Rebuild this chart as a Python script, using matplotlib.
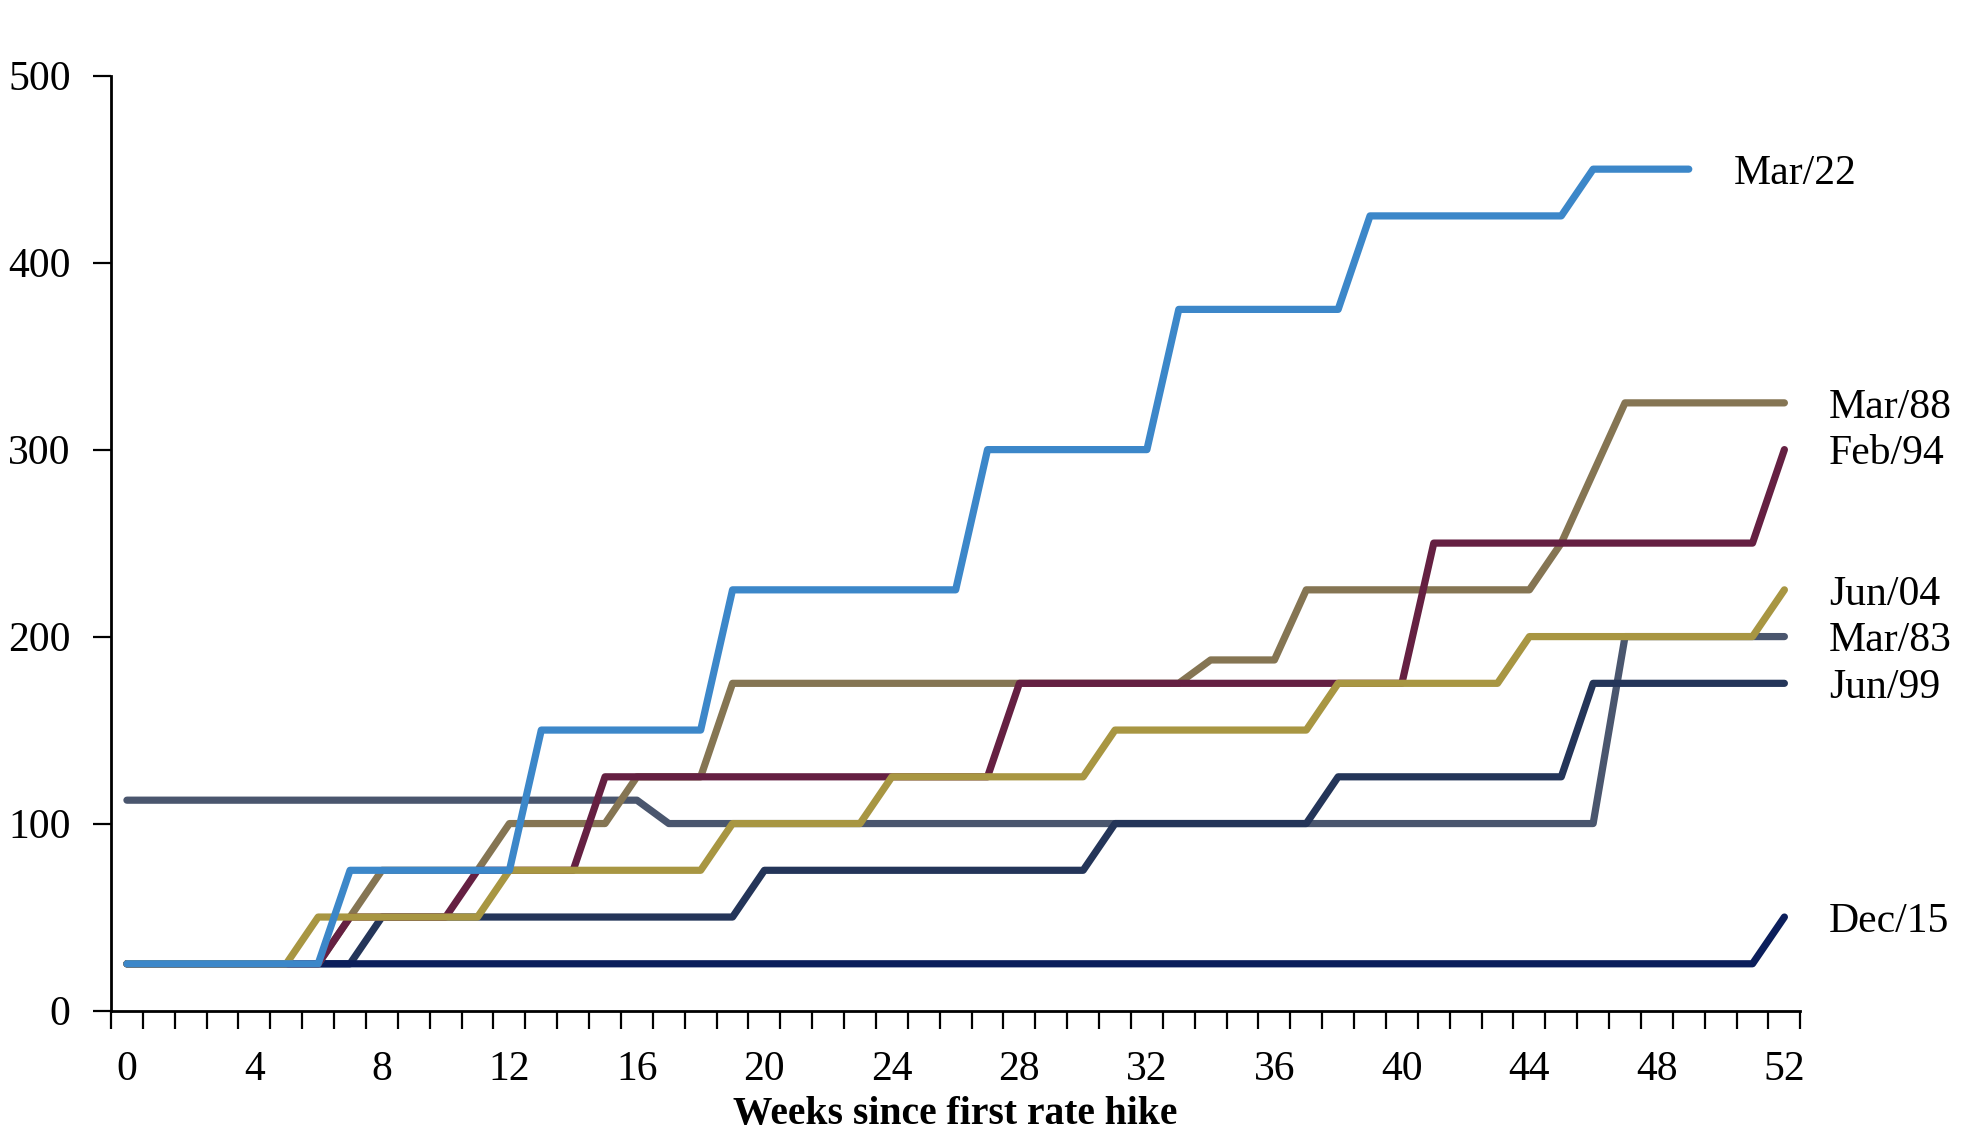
import matplotlib

matplotlib.use("Agg")
import matplotlib.pyplot as plt
import numpy as np

plt.rcParams["font.family"] = ["Liberation Serif", "DejaVu Serif"]

# Basis-point increases by week since the first hike
mar_83 = [112.5, 112.5, 112.5, 112.5, 112.5, 112.5, 112.5, 112.5, 112.5, 112.5,
          112.5, 112.5, 112.5, 112.5, 112.5, 112.5, 112.5, 100, 100, 100,
          100, 100, 100, 100, 100, 100, 100, 100, 100, 100,
          100, 100, 100, 100, 100, 100, 100, 100, 100, 100,
          100, 100, 100, 100, 100, 100, 100, 200, 200, 200,
          200, 200, 200]
jun_99 = [25, 25, 25, 25, 25, 25, 25, 25, 50, 50,
          50, 50, 50, 50, 50, 50, 50, 50, 50, 50,
          75, 75, 75, 75, 75, 75, 75, 75, 75, 75,
          75, 100, 100, 100, 100, 100, 100, 100, 125, 125,
          125, 125, 125, 125, 125, 125, 175, 175, 175, 175,
          175, 175, 175]
dec_15 = [25, 25, 25, 25, 25, 25, 25, 25, 25, 25,
          25, 25, 25, 25, 25, 25, 25, 25, 25, 25,
          25, 25, 25, 25, 25, 25, 25, 25, 25, 25,
          25, 25, 25, 25, 25, 25, 25, 25, 25, 25,
          25, 25, 25, 25, 25, 25, 25, 25, 25, 25,
          25, 25, 50]
mar_88 = [25, 25, 25, 25, 25, 25, 25, 50, 75, 75,
          75, 75, 100, 100, 100, 100, 125, 125, 125, 175,
          175, 175, 175, 175, 175, 175, 175, 175, 175, 175,
          175, 175, 175, 175, 187.5, 187.5, 187.5, 225, 225, 225,
          225, 225, 225, 225, 225, 250, 287.5, 325, 325, 325,
          325, 325, 325]
feb_94 = [25, 25, 25, 25, 25, 25, 25, 50, 50, 50,
          50, 75, 75, 75, 75, 125, 125, 125, 125, 125,
          125, 125, 125, 125, 125, 125, 125, 125, 175, 175,
          175, 175, 175, 175, 175, 175, 175, 175, 175, 175,
          175, 250, 250, 250, 250, 250, 250, 250, 250, 250,
          250, 250, 300]
jun_04 = [25, 25, 25, 25, 25, 25, 50, 50, 50, 50,
          50, 50, 75, 75, 75, 75, 75, 75, 75, 100,
          100, 100, 100, 100, 125, 125, 125, 125, 125, 125,
          125, 150, 150, 150, 150, 150, 150, 150, 175, 175,
          175, 175, 175, 175, 200, 200, 200, 200, 200, 200,
          200, 200, 225]
mar_22 = [25, 25, 25, 25, 25, 25, 25, 75, 75, 75,
          75, 75, 75, 150, 150, 150, 150, 150, 150, 225,
          225, 225, 225, 225, 225, 225, 225, 300, 300, 300,
          300, 300, 300, 375, 375, 375, 375, 375, 375, 425,
          425, 425, 425, 425, 425, 425, 450, 450, 450, 450]

# drawn bottom to top
series = [
    ("Mar/83", mar_83, "#4a566e"),
    ("Jun/99", jun_99, "#243559"),
    ("Dec/15", dec_15, "#0b1e5b"),
    ("Mar/88", mar_88, "#857553"),
    ("Feb/94", feb_94, "#652042"),
    ("Jun/04", jun_04, "#a89642"),
    ("Mar/22", mar_22, "#3c87c9"),
]

fig = plt.figure(figsize=(19.68, 11.43), dpi=100)
ax = fig.add_axes([0.0564, 0.1159, 0.8584, 0.8179])

for name, vals, color in series:
    weeks = np.arange(len(vals))
    ax.plot(weeks, vals, color=color, linewidth=5.2,
            solid_capstyle="round", solid_joinstyle="round")
    ax.text(weeks[-1] + 1.4, vals[-1], name, fontsize=30,
            ha="left", va="center_baseline", color="black")

ax.set_xlim(-0.5, 52.5)
ax.set_ylim(0, 500)

ax.set_xticks(np.arange(0, 53, 4))
ax.set_xticks(np.arange(-0.5, 53, 1), minor=True)
ax.tick_params(axis="x", which="major", length=0, pad=29, labelsize=30)
ax.tick_params(axis="x", which="minor", direction="out", length=13,
               width=1.6, color="black")
ax.set_yticks(np.arange(0, 501, 100))
ax.tick_params(axis="y", direction="out", length=13, width=1.6,
               pad=16, labelsize=30)

for side in ["top", "right"]:
    ax.spines[side].set_visible(False)
for side in ["left", "bottom"]:
    ax.spines[side].set_linewidth(2)
    ax.spines[side].set_color("black")

ax.set_xlabel("Weeks since first rate hike", fontsize=28.5,
              fontweight="bold", labelpad=5)

fig.savefig("out.png", dpi=100)
